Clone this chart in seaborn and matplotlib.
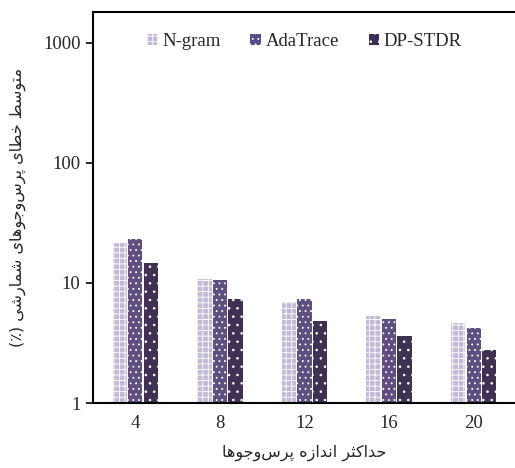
import matplotlib
matplotlib.use("Agg")
import matplotlib.pyplot as plt
from matplotlib.patches import Patch
import numpy as np
import pandas as pd
import seaborn as sns

# data
sizes = ["4", "8", "12", "16", "20"]
methods = ["N-gram", "AdaTrace", "DP-STDR"]
ngram = [21.5, 10.7, 6.9, 5.35, 4.6]
adatrace = [23.2, 10.6, 7.3, 5.05, 4.2]
dpstdr = [14.8, 7.3, 4.8, 3.6, 2.75]
colors = ["#c2b4dc", "#5c4789", "#3d2c58"]
hatches = ["+++", "...", ".."]

xlabel_fa = "حداکثر اندازه پرس\u200cوجوها"
ylabel_fa = "متوسط خطای پرس\u200cوجوهای شمارشی (٪)"

# simple arabic-script shaping, since matplotlib has no complex text layout
FORMS = {
    "ا": ("\uFE8D", "\uFE8E", None, None),
    "ت": ("\uFE95", "\uFE96", "\uFE97", "\uFE98"),
    "ث": ("\uFE99", "\uFE9A", "\uFE9B", "\uFE9C"),
    "ج": ("\uFE9D", "\uFE9E", "\uFE9F", "\uFEA0"),
    "ح": ("\uFEA1", "\uFEA2", "\uFEA3", "\uFEA4"),
    "خ": ("\uFEA5", "\uFEA6", "\uFEA7", "\uFEA8"),
    "د": ("\uFEA9", "\uFEAA", None, None),
    "ر": ("\uFEAD", "\uFEAE", None, None),
    "ز": ("\uFEAF", "\uFEB0", None, None),
    "س": ("\uFEB1", "\uFEB2", "\uFEB3", "\uFEB4"),
    "ش": ("\uFEB5", "\uFEB6", "\uFEB7", "\uFEB8"),
    "ط": ("\uFEC1", "\uFEC2", "\uFEC3", "\uFEC4"),
    "م": ("\uFEE1", "\uFEE2", "\uFEE3", "\uFEE4"),
    "ن": ("\uFEE5", "\uFEE6", "\uFEE7", "\uFEE8"),
    "ه": ("\uFEE9", "\uFEEA", "\uFEEB", "\uFEEC"),
    "و": ("\uFEED", "\uFEEE", None, None),
    "پ": ("\uFB56", "\uFB57", "\uFB58", "\uFB59"),
    "ک": ("\uFB8E", "\uFB8F", "\uFB90", "\uFB91"),
    "ی": ("\uFBFC", "\uFBFD", "\uFBFE", "\uFBFF"),
}


def shape(text):
    out = []
    for i, c in enumerate(text):
        if c not in FORMS:
            out.append(c)
            continue
        prev = text[i - 1] if i > 0 else ""
        nxt = text[i + 1] if i + 1 < len(text) else ""
        join_prev = prev in FORMS and FORMS[prev][2] is not None
        join_next = FORMS[c][2] is not None and nxt in FORMS
        iso, fin, ini, med = FORMS[c]
        if join_prev and join_next:
            out.append(med)
        elif join_prev:
            out.append(fin)
        elif join_next:
            out.append(ini)
        else:
            out.append(iso)
    s = "".join(out).replace("\u200c", "")[::-1]
    return s.translate(str.maketrans("()", ")("))


df = pd.DataFrame({
    "size": sizes * 3,
    "method": [m for m in methods for _ in sizes],
    "value": ngram + adatrace + dpstdr,
})

sns.set_theme(style="white")
plt.rcParams["font.family"] = ["Liberation Serif", "DejaVu Sans"]
plt.rcParams["hatch.linewidth"] = 0.6

fig = plt.figure(figsize=(5.15, 4.68), dpi=100)
ax = fig.add_axes([93 / 515, 65 / 468, 423 / 515, 391 / 468])

sns.barplot(data=df, x="size", y="value", hue="method", hue_order=methods,
            order=sizes, palette=colors, width=0.55, gap=0.08,
            linewidth=0, ax=ax, legend=False)

for i, cont in enumerate(ax.containers):
    for bar in cont:
        bar.set_hatch(hatches[i])
        bar.set_edgecolor("white")
        bar.set_linewidth(0)

ax.set_yscale("log")
ax.set_ylim(1, 10 ** 3.258)
ax.set_xlim(-0.5, 4.5)
ax.set_yticks([1, 10, 100, 1000])
ax.set_yticklabels(["1", "10", "100", "1000"])
ax.yaxis.set_minor_locator(matplotlib.ticker.NullLocator())
ax.tick_params(axis="y", length=5, width=1.2, color="black", left=True,
               labelsize=13.5, pad=4)
ax.tick_params(axis="x", length=0, labelsize=13.5, pad=9)

for side in ["left", "top", "bottom"]:
    ax.spines[side].set_color("black")
    ax.spines[side].set_linewidth(1.5)
ax.spines["right"].set_visible(False)

ax.set_xlabel(shape(xlabel_fa), family="DejaVu Sans", fontsize=11.5, labelpad=9)
ax.set_ylabel(shape(ylabel_fa), family="DejaVu Sans", fontsize=11.5, labelpad=12)

handles = [Patch(facecolor=colors[i], hatch=hatches[i], edgecolor="white",
                 linewidth=0) for i in range(3)]
ax.legend(handles, methods, loc="upper center", bbox_to_anchor=(0.5, 0.99),
          ncol=3, frameon=False, fontsize=13.5, handlelength=0.55,
          handleheight=0.55, handletextpad=0.25, columnspacing=1.6)

fig.savefig("out.png", dpi=100)
